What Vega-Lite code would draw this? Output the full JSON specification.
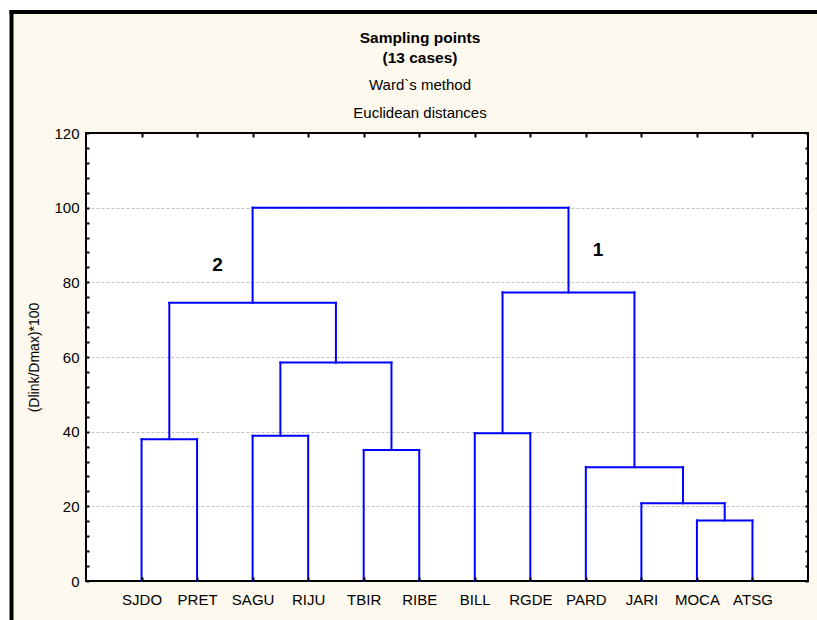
{
  "$schema": "https://vega.github.io/schema/vega-lite/v6.json",
  "width": 722,
  "height": 448,
  "autosize": {"type": "none"},
  "padding": {"left": 86, "top": 133, "right": 9, "bottom": 39},
  "background": "#fdf9ef",
  "config": {
    "font": "Liberation Sans",
    "view": {"stroke": "black", "strokeWidth": 2, "fill": "white"},
    "axis": {"labelFont": "Liberation Sans", "titleFont": "Liberation Sans", "labelColor": "black", "titleColor": "black", "tickColor": "black", "domain": false, "ticks": true}
  },
  "title": {
    "text": ["Sampling points", "(13 cases)"],
    "subtitle": ["Ward`s method", "Euclidean distances"],
    "font": "Liberation Sans",
    "subtitleFont": "Liberation Sans",
    "fontSize": 15.5,
    "fontWeight": "bold",
    "lineHeight": 20,
    "subtitleFontSize": 15,
    "subtitleLineHeight": 28,
    "subtitleColor": "black",
    "color": "black",
    "anchor": "middle",
    "frame": "group",
    "dx": -27,
    "offset": -121,
    "subtitlePadding": 11
  },
  "datasets": {
    "merges": [
      {"xl": 1, "xr": 2, "hl": 0, "hr": 0, "h": 38.0},
      {"xl": 3, "xr": 4, "hl": 0, "hr": 0, "h": 38.9},
      {"xl": 5, "xr": 6, "hl": 0, "hr": 0, "h": 35.1},
      {"xl": 3.5, "xr": 5.5, "hl": 38.9, "hr": 35.1, "h": 58.5},
      {"xl": 1.5, "xr": 4.5, "hl": 38.0, "hr": 58.5, "h": 74.5},
      {"xl": 7, "xr": 8, "hl": 0, "hr": 0, "h": 39.6},
      {"xl": 11, "xr": 12, "hl": 0, "hr": 0, "h": 16.2},
      {"xl": 10, "xr": 11.5, "hl": 0, "hr": 16.2, "h": 20.8},
      {"xl": 9, "xr": 10.75, "hl": 0, "hr": 20.8, "h": 30.5},
      {"xl": 7.5, "xr": 9.875, "hl": 39.6, "hr": 30.5, "h": 77.3},
      {"xl": 3.0, "xr": 8.6875, "hl": 74.5, "hr": 77.3, "h": 100}
    ],
    "clusters": [
      {"label": "2", "x": 2.37, "y": 84.6},
      {"label": "1", "x": 9.22, "y": 88.7}
    ],
    "frame": [{"part": "frame"}]
  },
  "resolve": {"axis": {"x": "independent", "y": "independent"}},
  "layer": [
    {
      "data": {"name": "merges"},
      "mark": {"type": "rule", "color": "#0000ff", "strokeWidth": 2, "strokeCap": "square"},
      "encoding": {
        "x": {"field": "xl", "type": "quantitative", "scale": {"domain": [0, 13], "nice": false, "zero": false},
          "axis": {"orient": "bottom", "values": [1,2,3,4,5,6,7,8,9,10,11,12], "title": null, "grid": false, "zindex": 1,
            "tickSize": -4, "tickWidth": 2, "labelPadding": 15, "labelFontSize": 15,
            "labelExpr": "['','SJDO','PRET','SAGU','RIJU','TBIR','RIBE','BILL','RGDE','PARD','JARI','MOCA','ATSG'][datum.value]"}},
        "x2": {"field": "xr"},
        "y": {"field": "h", "type": "quantitative", "scale": {"domain": [0, 120], "nice": false, "zero": false},
          "axis": {"orient": "left", "values": [0,4,8,12,16,20,24,28,32,36,40,44,48,52,56,60,64,68,72,76,80,84,88,92,96,100,104,108,112,116,120],
            "title": "(Dlink/Dmax)*100", "titleFontSize": 14, "titleFontWeight": "normal", "titlePadding": 12,
            "tickSize": -3, "tickWidth": 2, "labelPadding": 10, "labelFontSize": 15,
            "labelExpr": "datum.value % 20 === 0 ? datum.label : ''",
            "grid": true, "gridColor": "#c0c0c0", "gridDash": [3, 2], "gridWidth": 1,
            "gridOpacity": {"condition": {"test": "datum.value % 20 === 0 && datum.value > 0 && datum.value < 120", "value": 1}, "value": 0}}}
      }
    },
    {
      "data": {"name": "merges"},
      "mark": {"type": "rule", "color": "#0000ff", "strokeWidth": 2, "strokeCap": "square"},
      "encoding": {
        "x": {"field": "xl", "type": "quantitative", "scale": {"domain": [0, 13], "nice": false, "zero": false}, "axis": null},
        "y": {"field": "hl", "type": "quantitative", "scale": {"domain": [0, 120], "nice": false, "zero": false}, "axis": null},
        "y2": {"field": "h"}
      }
    },
    {
      "data": {"name": "merges"},
      "mark": {"type": "rule", "color": "#0000ff", "strokeWidth": 2, "strokeCap": "square"},
      "encoding": {
        "x": {"field": "xr", "type": "quantitative", "scale": {"domain": [0, 13], "nice": false, "zero": false}, "axis": null},
        "y": {"field": "hr", "type": "quantitative", "scale": {"domain": [0, 120], "nice": false, "zero": false}, "axis": null},
        "y2": {"field": "h"}
      }
    },
    {
      "data": {"name": "clusters"},
      "mark": {"type": "text", "fontSize": 19, "fontWeight": "bold", "color": "black", "font": "Liberation Sans"},
      "encoding": {
        "text": {"field": "label"},
        "x": {"field": "x", "type": "quantitative", "scale": {"domain": [0, 13], "nice": false, "zero": false},
          "axis": {"orient": "top", "values": [1,2,3,4,5,6,7,8,9,10,11,12], "labels": false, "title": null, "grid": false, "tickSize": -4, "tickWidth": 2, "zindex": 1}},
        "y": {"field": "y", "type": "quantitative", "scale": {"domain": [0, 120], "nice": false, "zero": false},
          "axis": {"orient": "right", "values": [0,4,8,12,16,20,24,28,32,36,40,44,48,52,56,60,64,68,72,76,80,84,88,92,96,100,104,108,112,116,120],
            "labels": false, "title": null, "grid": false, "tickSize": -3, "tickWidth": 2, "zindex": 1}}
      }
    },
    {
      "data": {"name": "frame"},
      "mark": {"type": "rule", "color": "white", "strokeWidth": 9, "clip": false},
      "encoding": {
        "x": {"datum": -1.467, "type": "quantitative", "scale": {"domain": [0, 13], "nice": false, "zero": false}, "axis": null},
        "y": {"datum": -11, "type": "quantitative", "scale": {"domain": [0, 120], "nice": false, "zero": false}, "axis": null},
        "y2": {"datum": 152.95}
      }
    },
    {
      "data": {"name": "frame"},
      "mark": {"type": "rule", "color": "white", "strokeWidth": 10, "clip": false},
      "encoding": {
        "y": {"datum": 154.3, "type": "quantitative", "scale": {"domain": [0, 120], "nice": false, "zero": false}, "axis": null},
        "x": {"datum": -1.6, "type": "quantitative", "scale": {"domain": [0, 13], "nice": false, "zero": false}, "axis": null},
        "x2": {"datum": 13.3}
      }
    },
    {
      "data": {"name": "frame"},
      "mark": {"type": "rule", "color": "black", "strokeWidth": 4, "clip": false},
      "encoding": {
        "x": {"datum": -1.341, "type": "quantitative", "scale": {"domain": [0, 13], "nice": false, "zero": false}, "axis": null},
        "y": {"datum": -11, "type": "quantitative", "scale": {"domain": [0, 120], "nice": false, "zero": false}, "axis": null},
        "y2": {"datum": 152.95}
      }
    },
    {
      "data": {"name": "frame"},
      "mark": {"type": "rule", "color": "black", "strokeWidth": 4, "clip": false},
      "encoding": {
        "y": {"datum": 152.4, "type": "quantitative", "scale": {"domain": [0, 120], "nice": false, "zero": false}, "axis": null},
        "x": {"datum": -1.377, "type": "quantitative", "scale": {"domain": [0, 13], "nice": false, "zero": false}, "axis": null},
        "x2": {"datum": 13.3}
      }
    }
  ]
}
